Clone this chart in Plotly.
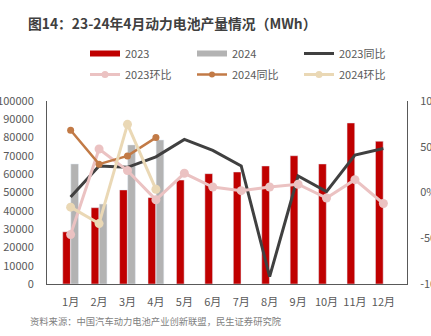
import plotly.graph_objects as go

months = ["1月", "2月", "3月", "4月", "5月", "6月", "7月", "8月", "9月", "10月", "11月", "12月"]
prod_2023 = [28500, 41700, 51400, 47200, 56800, 60300, 61200, 64500, 70100, 65600, 88000, 78000]
prod_2024 = [65600, 43700, 76000, 78700, None, None, None, None, None, None, None, None]
yoy_2023 = [-5, 29, 27.5, 39, 58, 46, 29, -92, 18, 1, 41, 48]
mom_2023 = [-46, 47.5, 24, -8, 21, 6, 2, 6, 9, -6, 14, -12]
yoy_2024 = [68, 31, 40, 60]
mom_2024 = [-16, -34, 74.5, 3.5]

left_ticks = list(range(0, 100001, 10000))
right_ticks = [-100, -50, 0, 50, 100]
right_labels = ["-100%", "-50%", "0%", "50%", "100%"]

RED = "#C00000"
GRAY = "#B3B3B3"
DARK = "#404040"
PINK = "#EBC2C2"
BROWN = "#C27A46"
BEIGE = "#EAD8B5"
FONT = "Noto Sans CJK SC"

fig = go.Figure()
fig.add_trace(go.Bar(x=months, y=prod_2023, name="2023", marker_color=RED, showlegend=False))
fig.add_trace(go.Bar(x=months, y=prod_2024, name="2024", marker_color=GRAY, showlegend=False))

fig.add_trace(go.Scatter(x=months, y=yoy_2023, name="2023同比", mode="lines",
                         line=dict(color=DARK, width=3), yaxis="y2", showlegend=False))
fig.add_trace(go.Scatter(x=months, y=mom_2023, name="2023环比", mode="lines+markers",
                         line=dict(color=PINK, width=3), marker=dict(size=9, color=PINK),
                         yaxis="y2", showlegend=False))
fig.add_trace(go.Scatter(x=months[:4], y=yoy_2024, name="2024同比", mode="lines+markers",
                         line=dict(color=BROWN, width=2.5), marker=dict(size=7, color=BROWN),
                         yaxis="y2", showlegend=False))
fig.add_trace(go.Scatter(x=months[:4], y=mom_2024, name="2024环比", mode="lines+markers",
                         line=dict(color=BEIGE, width=3), marker=dict(size=9, color=BEIGE),
                         yaxis="y2", showlegend=False))

# legend entries (swatches styled like the reference), two rows as two legends
legend_items = [
    ("2023", dict(color=RED, width=6), None, "legend"),
    ("2024", dict(color=GRAY, width=6), None, "legend"),
    ("2023同比", dict(color=DARK, width=3), None, "legend"),
    ("2023环比", dict(color=PINK, width=3), dict(size=7, color=PINK), "legend2"),
    ("2024同比", dict(color=BROWN, width=2.5), dict(size=6, color=BROWN), "legend2"),
    ("2024环比", dict(color=BEIGE, width=3), dict(size=7, color=BEIGE), "legend2"),
]
for name, ln, mk, lg in legend_items:
    fig.add_trace(go.Scatter(x=[None], y=[None], name=name,
                             mode="lines+markers" if mk else "lines",
                             line=ln, marker=mk if mk else None, yaxis="y2",
                             showlegend=True, legend=lg))

legend_common = dict(orientation="h", xanchor="left", yanchor="middle",
                     entrywidth=62, entrywidthmode="pixels",
                     font=dict(family=FONT, size=11, color="#595959"),
                     itemwidth=30, bgcolor="rgba(0,0,0,0)")

fig.update_layout(
    width=431, height=336,
    margin=dict(l=47, r=24, t=101, b=52),
    paper_bgcolor="white", plot_bgcolor="white",
    barmode="group", bargap=0.43, bargroupgap=0.05,
    font=dict(family=FONT, size=11, color="#595959"),
    title=dict(text="<b>图14：23-24年4月动力电池产量情况（MWh）</b>",
               x=28 / 431, xanchor="left", y=1 - 24 / 336, yanchor="middle",
               font=dict(family=FONT, size=13.8, color="#404040")),
    legend=dict(x=(85 - 47) / 360, y=1 + (101 - 53.5) / 183, **legend_common),
    legend2=dict(x=(85 - 47) / 360, y=1 + (101 - 74.5) / 183, **legend_common),
    xaxis=dict(showline=True, linecolor="#595959", linewidth=1, showgrid=False,
               automargin=False, ticks="", ticklabelstandoff=8,
               tickfont=dict(size=11, color="#595959")),
    yaxis=dict(range=[0, 100000], tickvals=left_ticks, tickformat="d", showline=True,
               linecolor="#595959", automargin=False,
               linewidth=1, showgrid=False, zeroline=False, ticks="", ticklabelstandoff=10,
               tickfont=dict(size=11, color="#595959")),
    yaxis2=dict(range=[-100, 100], tickvals=right_ticks, ticktext=right_labels,
                overlaying="y", side="right", showline=True, linecolor="#595959",
                linewidth=1, showgrid=False, zeroline=False, ticks="", ticklabelstandoff=10,
                automargin=False, tickfont=dict(size=11, color="#595959")),
    annotations=[dict(text="资料来源：中国汽车动力电池产业创新联盟，民生证券研究院",
                      xref="paper", yref="paper", x=-19 / 360, xanchor="left",
                      y=-(321 - 284) / 183, yanchor="middle", showarrow=False,
                      font=dict(family=FONT, size=9.3, color="#7F7F7F"))],
)

fig.write_html("out.html")
